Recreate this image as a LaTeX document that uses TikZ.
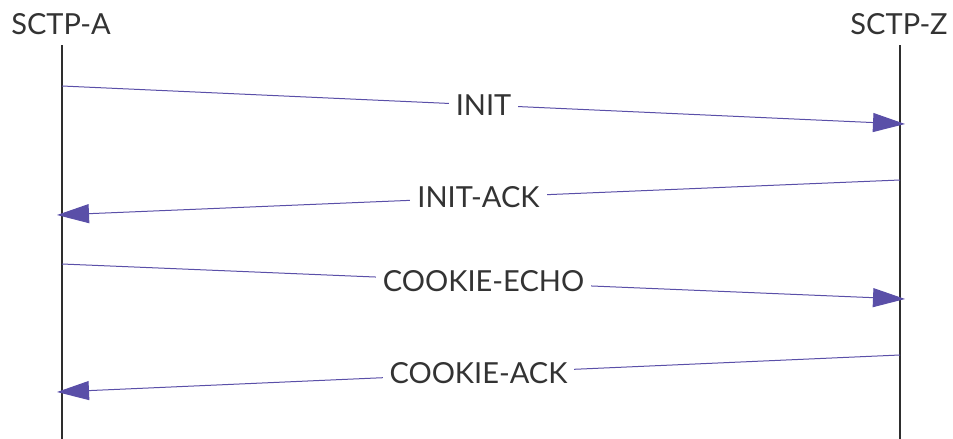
\documentclass[tikz,border=0pt]{standalone}
\usepackage{fontspec}
\setmainfont{Lato}
\usetikzlibrary{arrows.meta}
\definecolor{msgcol}{HTML}{5A4FA8}
\definecolor{txtcol}{HTML}{333333}
\begin{document}
\begin{tikzpicture}[x=1pt,y=-1pt,
  lifeline/.style={draw=txtcol!90!black, line width=1.3pt},
  actor/.style={text=txtcol, font=\fontsize{29}{32}\selectfont, inner sep=0pt},
  msg/.style={draw=msgcol, line width=1pt,
    -{Triangle[length=32pt,width=19pt]}},
  msglabel/.style={fill=white, text=txtcol, inner xsep=7pt, inner ysep=2pt,
    font=\fontsize{29}{32}\selectfont}]
  \useasboundingbox (0,0) rectangle (953,439);
  % participants
  \node[actor] (A) at (61,24) {SCTP-A};
  \node[actor] (Z) at (899,24) {SCTP-Z};
  % lifelines
  \coordinate (Atop) at (62,45);
  \coordinate (Abot) at (62,439);
  \coordinate (Ztop) at (900,45);
  \coordinate (Zbot) at (900,439);
  \draw[lifeline] (Atop) -- (Abot);
  \draw[lifeline] (Ztop) -- (Zbot);
  % message end points
  \coordinate (a1) at (62,86);   \coordinate (z1) at (905,124);
  \coordinate (z2) at (900,180); \coordinate (a2) at (57,215);
  \coordinate (a3) at (62,264);  \coordinate (z3) at (905,299);
  \coordinate (z4) at (900,355); \coordinate (a4) at (57,392);
  % messages
  \draw[msg] (a1) -- node[msglabel] (m1) {INIT} (z1);
  \draw[msg] (z2) -- node[msglabel] (m2) {INIT-ACK} (a2);
  \draw[msg] (a3) -- node[msglabel] (m3) {COOKIE-ECHO} (z3);
  \draw[msg] (z4) -- node[msglabel] (m4) {COOKIE-ACK} (a4);
\end{tikzpicture}
\end{document}
